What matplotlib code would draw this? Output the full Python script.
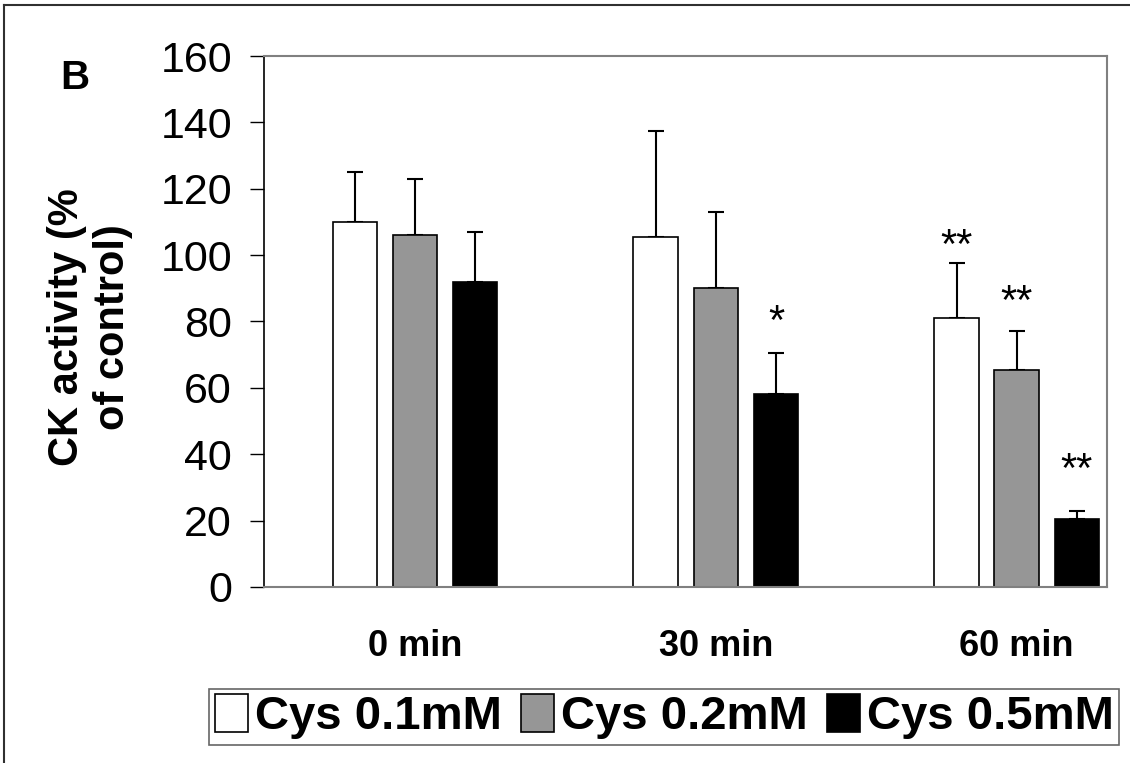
import matplotlib
matplotlib.use("Agg")
import matplotlib.pyplot as plt
from matplotlib.lines import Line2D
from matplotlib.patches import Patch
import numpy as np

plt.rcParams["font.family"] = ["Liberation Sans", "DejaVu Sans"]

# ---- data --------------------------------------------------------------
times = ["0 min", "30 min", "60 min"]
series = ["Cys 0.1mM", "Cys 0.2mM", "Cys 0.5mM"]
cys_01 = [110, 105.5, 81]
cys_02 = [106, 90, 65.5]
cys_05 = [92, 58, 20.5]
err_01 = [15, 32, 16.5]
err_02 = [17, 23, 11.5]
err_05 = [15, 12.5, 2.5]
# significance marks: (series index, time index, label, y of label)
marks = [(2, 1, "*", 79.5), (0, 2, "**", 102.5), (1, 2, "**", 85.5), (2, 2, "**", 35)]

fills = ["white", "#969696", "black"]
width = 0.148
offsets = [-0.2, 0.0, 0.2]

fig = plt.figure(figsize=(11.3, 7.63), dpi=100)
ax = fig.add_axes([0.2336, 0.2307, 0.746, 0.6959])

x = np.arange(len(times))
vals = [cys_01, cys_02, cys_05]
errs = [err_01, err_02, err_05]
for k in range(3):
    ax.bar(x + offsets[k], vals[k], width, color=fills[k], edgecolor="black",
           linewidth=1.2, zorder=2)
    ax.errorbar(x + offsets[k], vals[k], yerr=[np.zeros(3), errs[k]], fmt="none",
                ecolor="black", elinewidth=1.5, capsize=5.5, capthick=1.5, zorder=1)

for k, i, lab, yy in marks:
    ax.text(x[i] + offsets[k], yy, lab, ha="center", va="center", fontsize=30)

ax.set_xlim(-0.502, 2.30)
ax.set_ylim(0, 160)
ax.set_yticks(np.arange(0, 161, 20))
ax.tick_params(axis="y", direction="out", length=10, width=1, labelsize=31, pad=13)
ax.set_xticks(x)
ax.set_xticklabels(times, fontsize=26, fontweight="bold")
ax.tick_params(axis="x", length=0, pad=30)

ax.spines["left"].set_color("black")
for s in ("bottom", "top", "right"):
    ax.spines[s].set_color("#808080")
    ax.spines[s].set_linewidth(1.5)
ax.spines["left"].set_linewidth(1.2)

ax.set_ylabel("CK activity (%\nof control)", fontsize=30, fontweight="bold",
              labelpad=0, linespacing=1.2)
ax.yaxis.set_label_coords(-0.155, 0.49)

fig.text(0.066, 0.898, "B", fontsize=29, fontweight="bold", ha="center", va="center")

handles = [Patch(facecolor=fills[k], edgecolor="black", linewidth=1.2) for k in range(3)]
leg = fig.legend(handles, series, loc="center", bbox_to_anchor=(0.588, 0.0605),
                 ncol=3, frameon=True, fancybox=False,
                 handlelength=0.7, handleheight=0.85, handletextpad=0.15,
                 columnspacing=0.4, borderpad=0.12, borderaxespad=0,
                 prop={"weight": "bold", "size": 34})
leg.get_frame().set_edgecolor("#404040")
leg.get_frame().set_linewidth(1.2)

# outer frame (top and left edges visible)
fig.add_artist(Line2D([0.0035, 1], [0.9935, 0.9935], color="#303030", lw=1.5,
                      transform=fig.transFigure))
fig.add_artist(Line2D([0.0035, 0.0035], [0, 0.9935], color="#303030", lw=1.5,
                      transform=fig.transFigure))

fig.savefig("out.png", dpi=100)
